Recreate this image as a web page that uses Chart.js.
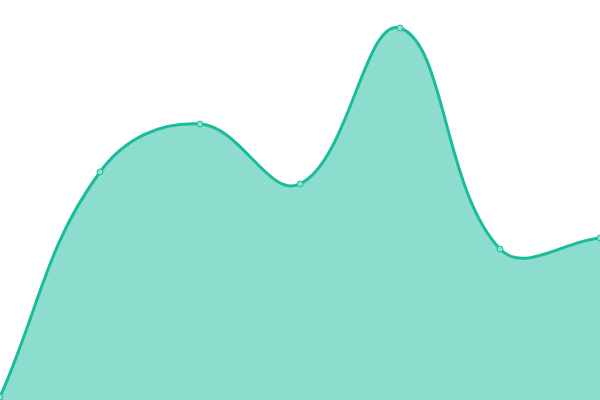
<!DOCTYPE html>
<html><head><meta charset="utf-8">
<script src="https://cdn.jsdelivr.net/npm/chart.js@4"></script>
<style>html,body{margin:0;padding:0;background:#fff}#w{width:600px;height:400px}</style>
</head><body><div id="w"><canvas id="c"></canvas></div>
<script>
const labels = ["A","B","C","D","E","F","G"];
const values = [3, 228, 276, 216, 372, 151, 162];
new Chart(document.getElementById('c'), {
  type: 'line',
  data: { labels, datasets: [{
    data: values,
    fill: true,
    backgroundColor: 'rgba(26,188,156,0.5)',
    borderColor: '#1abc9c',
    borderWidth: 3,
    tension: 0.4,
    pointRadius: 3,
    pointBackgroundColor: '#8ce0cf',
    pointBorderColor: '#1abc9c',
    pointBorderWidth: 1
  }]},
  options: {
    responsive: true, maintainAspectRatio: false, animation: false,
    layout: { padding: 0, autoPadding: false },
    plugins: { legend: { display: false }, tooltip: { enabled: false } },
    scales: {
      x: { display: false, offset: false },
      y: { display: false, min: 0, max: 400 }
    }
  }
});
</script></body></html>
